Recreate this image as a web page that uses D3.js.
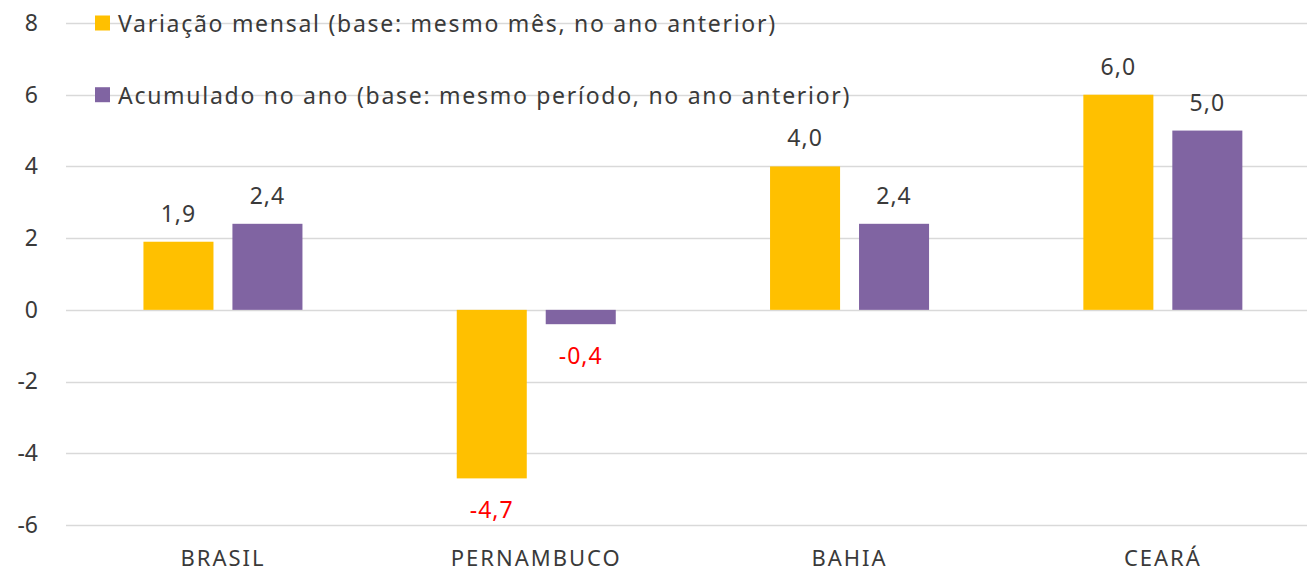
<!DOCTYPE html>
<html>
<head>
<meta charset="utf-8">
<script src="https://cdn.jsdelivr.net/npm/d3@7"></script>
<style>
  html, body { margin: 0; padding: 0; background: #fff; }
  svg { display: block; }
  text { font-family: "Noto Sans", "Open Sans", sans-serif; }
</style>
</head>
<body>
<script>
const categories = ["BRASIL", "PERNAMBUCO", "BAHIA", "CEARÁ"];
const seriesNames = [
  "Variação mensal (base: mesmo mês, no ano anterior)",
  "Acumulado no ano (base: mesmo período, no ano anterior)"
];
const mensal = [1.9, -4.7, 4.0, 6.0];
const acumulado = [2.4, -0.4, 2.4, 5.0];
const yTicks = [-6, -4, -2, 0, 2, 4, 6, 8];
const colors = ["#FFC000", "#8064A2"];

const W = 1307, H = 575;
const svg = d3.select("body").append("svg").attr("width", W).attr("height", H);

const x = d3.scaleBand().domain(categories).range([66.3, 1319.5]).paddingInner(0).paddingOuter(0);
const x1 = d3.scaleBand().domain([0, 1]).range([0, x.bandwidth()]).paddingInner(0.213).paddingOuter(0.867);
const y = d3.scaleLinear().domain([-6, 8]).range([525, 23]);

const fmtNum = s => s.replace("\u2212", "-");

// gridlines
svg.append("g").selectAll("line").data(yTicks).join("line")
  .attr("x1", 66).attr("x2", 1320)
  .attr("y1", d => Math.round(y(d)) + 0.5).attr("y2", d => Math.round(y(d)) + 0.5)
  .attr("stroke", "#d9d9d9").attr("stroke-width", 1.5);

// y axis labels
const yAxis = d3.axisLeft(y).tickValues(yTicks).tickSize(0).tickPadding(0)
  .tickFormat(d => fmtNum(d3.format("d")(d)));
const yg = svg.append("g").attr("transform", "translate(38,0)").call(yAxis);
yg.select(".domain").remove();
yg.selectAll("text").attr("font-size", 23).attr("fill", "#3a3a3a")
  .attr("font-family", "Noto Sans, sans-serif");

// x axis labels
const xAxis = d3.axisBottom(x).tickSize(0).tickPadding(0);
const xg = svg.append("g").attr("transform", "translate(0,550)").call(xAxis);
xg.select(".domain").remove();
xg.selectAll("text").attr("font-size", 22).attr("fill", "#3a3a3a")
  .attr("letter-spacing", 2)
  .attr("font-family", "Noto Sans, sans-serif");

const series = [mensal, acumulado];
const fmt = v => fmtNum(d3.format(".1f")(v)).replace(".", ",");

series.forEach((vals, si) => {
  const g = svg.append("g");
  g.selectAll("rect").data(vals).join("rect")
    .attr("x", (d, i) => x(categories[i]) + x1(si))
    .attr("width", x1.bandwidth())
    .attr("y", d => y(Math.max(0, d)))
    .attr("height", d => Math.abs(y(d) - y(0)))
    .attr("fill", colors[si]);
  g.selectAll("text").data(vals).join("text")
    .attr("x", (d, i) => x(categories[i]) + x1(si) + x1.bandwidth() / 2)
    .attr("y", d => d >= 0 ? y(d) - 29 : y(d) + 31)
    .attr("text-anchor", "middle")
    .attr("dominant-baseline", "central")
    .attr("font-size", 23)
    .attr("letter-spacing", 1)
    .attr("fill", d => d < 0 ? "#FF0000" : "#3a3a3a")
    .text(d => fmt(d));
});

// legend
const leg = svg.append("g");
seriesNames.forEach((name, i) => {
  const cy = y(yTicks[yTicks.length - 1 - i]);
  leg.append("rect").attr("x", 95).attr("y", cy - 7.5).attr("width", 15).attr("height", 15).attr("fill", colors[i]);
  leg.append("text").attr("x", 118).attr("y", cy).attr("dominant-baseline", "central")
    .attr("font-size", 23).attr("letter-spacing", 1.72).attr("fill", "#3a3a3a").text(name);
});
</script>
</body>
</html>
